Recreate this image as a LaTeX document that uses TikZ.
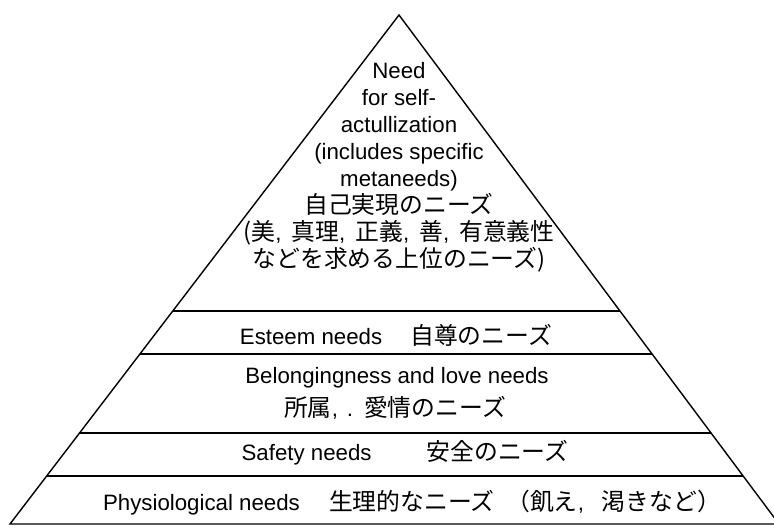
\documentclass[tikz,border=0pt]{standalone}
\usepackage{fontspec}
\setmainfont{Liberation Sans}
\newfontfamily\jp[Scale=1.07]{Noto Sans CJK JP}
\usetikzlibrary{calc}

\begin{document}
\begin{tikzpicture}[x=0.03cm,y=-0.03cm,
    level/.style={font=\fontsize{19}{23}\selectfont,align=center,inner sep=0pt},
    band/.style={line width=1.2pt}]
  \clip (0,0) rectangle (774,529);
  % corners of the pyramid
  \coordinate (apex) at (399,15);
  \coordinate (bl) at (10,524);
  \coordinate (br) at (779,524);
  \draw[band,line join=miter] (apex) -- (bl) -- (br) -- cycle;
  % band boundaries (fractions of the way down the sides)
  \foreach \t in {0.5815,0.666,0.8212,0.9057}
    \draw[band] ($(apex)!\t!(bl)$) -- ($(apex)!\t!(br)$);
  % top level
  \node[level] (selfact) at (399,167)
    {Need\\for self-\\actullization\\(includes specific\\metaneeds)\\
     {\jp 自己実現のニーズ}\\
     {\jp (美},\hspace{0.45em}{\jp 真理},\hspace{0.45em}{\jp 正義},\hspace{0.45em}{\jp 善},\hspace{0.45em}{\jp 有意義性}\\
     {\jp などを求める上位のニーズ)}};
  % lower levels
  \node[level] (esteem) at (396,335) {Esteem needs\hspace{24pt}{\jp 自尊のニーズ}};
  \node[level] (belong) at (397,378) {Belongingness and love needs};
  \node[level] (belongjp) at (395,408) {{\jp 所属},\hspace{0.4em}.\hspace{0.5em}{\jp 愛情のニーズ}};
  \node[level] (safety) at (405,453) {Safety needs\hspace{47pt}{\jp 安全のニーズ}};
  \node[level] (physio) at (412,503)
    {Physiological needs\hspace{25pt}{\jp 生理的なニーズ\hspace{10pt}（飢え},\hspace{0.8em}{\jp 渇きなど）}};
\end{tikzpicture}
\end{document}
